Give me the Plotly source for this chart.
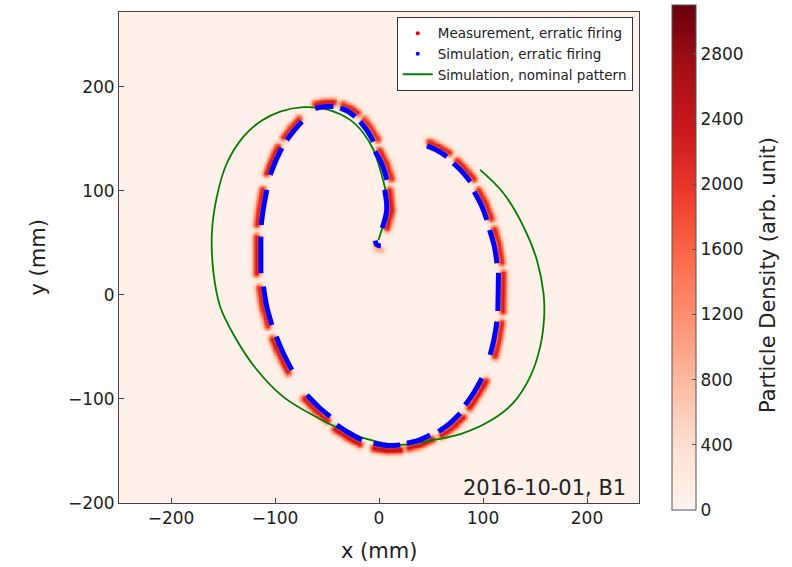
import numpy as np
import plotly.graph_objects as go
import plotly.colors as pc

# ---------------- data (mm) ----------------
# Simulation, nominal pattern (green line)
nominal_x = [-0.5, 3.8, 7.6, 6.0, 1.2, -5.3, -14.9, -27.7, -50.1, -72.6, -95.0, -113.0, -130.3,
             -146.3, -155.9, -160.7, -159.1, -152.7, -139.9, -119.0, -92.0, -60.0, -27.7, -2.0,
             20.4, 52.4, 79.0, 106.9, 129.3, 145.4, 155.0, 158.8, 158.2, 151.8, 138.9, 119.7, 97.3]
nominal_y = [52.9, 65.7, 73.8, 101.0, 120.2, 139.4, 155.5, 168.3, 178.5, 180.5, 176.3, 167.5, 152.2,
             126.6, 94.5, 59.3, 20.9, -11.3, -38.0, -70.0, -98.0, -117.5, -133.0, -141.1,
             -144.2, -139.4, -133.5, -121.0, -103.5, -78.6, -49.7, -20.9, 1.6, 33.7, 65.7, 97.8, 120.2]

# Simulation, erratic firing (blue dashes, None = gap)
sim_x = [-3.7, -2.0, 1.8, None,
         5.5, 7.4, 3.1, None,
         -3.7, 3.1, 7.6, None,
         -18.1, -11.3, -5.3, None,
         -37.3, -29.6, -22.9, None,
         -61.3, -52.7, -43.8, None,
         -74.1, -81.5, -88.6, None,
         -93.4, -99.3, -104.6, None,
         -107.8, -110.9, -113.3, None,
         -113.6, -113.6, None,
         -111.1, -108.0, -103.0, None,
         -98.8, -92.1, -83.8, None,
         -69.3, -58.5, -46.9, None,
         -40.5, -28.7, -16.4, None,
         -5.3, 7.4, 20.4, None,
         26.8, 37.7, 49.2, None,
         57.2, 68.0, 78.1, None,
         82.9, 91.5, 98.9, None,
         106.9, 110.8, 113.4, None,
         114.3, 114.9, None,
         113.4, 110.8, 106.3, None,
         103.8, 98.3, 91.5, None,
         87.7, 80.0, 71.6, None,
         65.3, 56.0, 46.1]
sim_y = [52.2, 48.1, 47.1, None,
         101.0, 81.7, 64.4, None,
         137.8, 125.0, 110.6, None,
         166.6, 157.7, 147.4, None,
         179.5, 176.4, 171.4, None,
         179.5, 181.0, 181.1, None,
         166.6, 158.2, 149.0, None,
         141.1, 128.8, 115.4, None,
         101.0, 84.6, 67.3, None,
         56.1, 20.9, None,
         8.0, -10.6, -28.8, None,
         -40.1, -55.8, -72.1, None,
         -96.2, -107.2, -117.0, None,
         -125.0, -132.7, -139.4, None,
         -142.6, -144.7, -144.2, None,
         -142.6, -139.9, -134.6, None,
         -131.4, -123.6, -113.8, None,
         -105.8, -93.3, -80.1, None,
         -57.7, -41.3, -25.7, None,
         -15.4, 21.2, None,
         30.5, 47.1, 62.5, None,
         72.1, 86.5, 99.3, None,
         108.9, 118.3, 126.6, None,
         133.0, 138.9, 143.3]

# Measurement, erratic firing (density stripes, None = gap)
meas_x = [-3.7, -2.0, 1.8, None,
          10.0, 11.9, 7.6, None,
          0.4, 7.2, 11.7, None,
          -14.3, -7.5, -1.5, None,
          -35.1, -27.4, -20.7, None,
          -61.3, -52.7, -43.8, None,
          -77.6, -85.0, -92.1, None,
          -97.5, -103.4, -108.7, None,
          -112.3, -115.4, -117.8, None,
          -118.1, -118.1, None,
          -115.5, -112.4, -107.4, None,
          -102.9, -96.2, -87.9, None,
          -72.4, -61.6, -50.0, None,
          -42.8, -31.0, -18.7, None,
          -5.3, 7.4, 20.4, None,
          28.3, 39.2, 50.7, None,
          60.1, 70.9, 81.0, None,
          86.7, 95.3, 102.7, None,
          111.3, 115.2, 117.8, None,
          118.8, 119.4, None,
          117.8, 115.2, 110.7, None,
          107.9, 102.4, 95.6, None,
          91.0, 83.3, 74.9, None,
          67.4, 58.1, 48.2]
meas_y = [48.5, 44.5, 43.5, None,
          101.0, 81.7, 64.4, None,
          139.5, 126.7, 112.3, None,
          169.1, 160.2, 149.9, None,
          183.4, 180.3, 175.3, None,
          184.0, 185.5, 185.6, None,
          169.5, 161.1, 151.9, None,
          142.9, 130.6, 117.2, None,
          101.7, 85.3, 68.0, None,
          56.1, 20.9, None,
          7.1, -11.5, -29.7, None,
          -42.0, -57.7, -74.0, None,
          -99.5, -110.5, -120.3, None,
          -128.9, -136.6, -143.3, None,
          -147.1, -149.2, -148.7, None,
          -146.8, -144.1, -138.8, None,
          -134.8, -127.0, -117.2, None,
          -108.2, -95.7, -82.5, None,
          -58.6, -42.2, -26.6, None,
          -15.4, 21.2, None,
          31.5, 48.1, 63.5, None,
          73.9, 88.3, 101.1, None,
          111.9, 121.3, 129.6, None,
          137.0, 142.9, 147.3]
meas_peak = [800, 2200, 2100, 2000, 2100, 2200, 2100, 2200, 2100, 2200, 2100, 2200, 2200, 2300,
             2400, 2300, 2200, 2200, 2100, 2200, 2100, 2100, 2100, 2100, 2100]
background_level = 90

# ---------------- density image from the measurement stripes ----------------
gx = np.arange(-250, 251, 1.5)
gy = np.arange(-200, 274, 1.5)
GX, GY = np.meshgrid(gx, gy)
sigma = 2.8
peak = np.zeros_like(GX)


def split(xs, ys):
    out, cur = [], []
    for a, b in zip(xs, ys):
        if a is None:
            out.append(cur)
            cur = []
        else:
            cur.append((a, b))
    out.append(cur)
    return out


for amp, dash in zip(meas_peak, split(meas_x, meas_y)):
    for (x0, y0), (x1, y1) in zip(dash[:-1], dash[1:]):
        dx, dy = x1 - x0, y1 - y0
        L2 = dx * dx + dy * dy
        t = np.clip(((GX - x0) * dx + (GY - y0) * dy) / L2, 0, 1)
        d2 = (GX - (x0 + t * dx)) ** 2 + (GY - (y0 + t * dy)) ** 2
        peak = np.maximum(peak, amp * np.exp(-d2 / (2 * sigma ** 2)))
density = np.round(background_level + peak, 1)

reds = pc.sequential.Reds
font_family = "DejaVu Sans, Arial, sans-serif"
txt = "#222222"

fig = go.Figure()
fig.add_trace(go.Heatmap(
    x=gx, y=gy, z=density, zmin=0, zmax=3100, zsmooth="best",
    colorscale=[[i / (len(reds) - 1), c] for i, c in enumerate(reds)],
    showscale=True, hoverinfo="skip",
    colorbar=dict(
        x=(672 - 119) / 520, xanchor="left", xref="paper", xpad=0, ypad=0,
        y=(503 - 257.5) / 491, yanchor="middle", lenmode="pixels", len=505,
        thickness=24, thicknessmode="pixels",
        outlinewidth=1, outlinecolor="#555555",
        tickvals=[0, 400, 800, 1200, 1600, 2000, 2400, 2800],
        ticks="inside", ticklen=4, tickcolor="#555555",
        tickfont=dict(size=17, color=txt, family=font_family),
    ),
    showlegend=False,
))
fig.add_trace(go.Scatter(x=nominal_x, y=nominal_y, mode="lines",
                         line=dict(color="#008000", width=1.8, shape="spline", smoothing=1.0),
                         showlegend=False, hoverinfo="skip"))
fig.add_trace(go.Scatter(x=sim_x, y=sim_y, mode="lines",
                         line=dict(color="#0000ff", width=5, shape="spline"),
                         connectgaps=False, showlegend=False, hoverinfo="skip"))
# legend entries
fig.add_trace(go.Scatter(x=[None], y=[None], mode="markers", name="Measurement, erratic firing",
                         marker=dict(color="#e00000", size=4)))
fig.add_trace(go.Scatter(x=[None], y=[None], mode="markers", name="Simulation, erratic firing",
                         marker=dict(color="#0000ff", size=4)))
fig.add_trace(go.Scatter(x=[None], y=[None], mode="lines", name="Simulation, nominal pattern",
                         line=dict(color="#008000", width=2)))

axis_common = dict(showline=True, mirror=True, linecolor="#444444", linewidth=1,
                   ticks="inside", ticklen=5, tickcolor="#444444", showgrid=False, zeroline=False,
                   tickfont=dict(size=17, color=txt, family=font_family))
fig.update_xaxes(range=[-250, 250], tickvals=[-200, -100, 0, 100, 200], **axis_common)
fig.update_yaxes(range=[-200, 272], tickvals=[-200, -100, 0, 100, 200], **axis_common)

fig.update_layout(
    width=792, height=567,
    margin=dict(l=119, r=153, t=12, b=64, autoexpand=False),
    paper_bgcolor="white", plot_bgcolor="white",
    font=dict(family=font_family, color=txt),
    legend=dict(x=0.988, xanchor="right", y=0.99, yanchor="top",
                bgcolor="white", bordercolor="#333333", borderwidth=1,
                font=dict(size=13.5, color=txt, family=font_family),
                itemwidth=30, tracegroupgap=0),
    annotations=[
        dict(text="2016-10-01, B1", x=0.979, y=(503 - 488) / 491, xref="paper", yref="paper",
             xanchor="right", yanchor="middle", showarrow=False,
             font=dict(size=21, color=txt, family=font_family)),
        dict(text="x (mm)", x=0.5, y=(503 - 551) / 491, xref="paper", yref="paper",
             xanchor="center", yanchor="middle", showarrow=False,
             font=dict(size=21, color=txt, family=font_family)),
        dict(text="y (mm)", x=(37 - 119) / 520, y=0.5, xref="paper", yref="paper",
             xanchor="center", yanchor="middle", showarrow=False, textangle=-90,
             font=dict(size=21, color=txt, family=font_family)),
        dict(text="Particle Density (arb. unit)", x=(768 - 119) / 520, y=(503 - 275) / 491,
             xref="paper", yref="paper", xanchor="center", yanchor="middle",
             showarrow=False, textangle=-90,
             font=dict(size=21, color=txt, family=font_family)),
    ],
)

fig.write_html("out.html")
